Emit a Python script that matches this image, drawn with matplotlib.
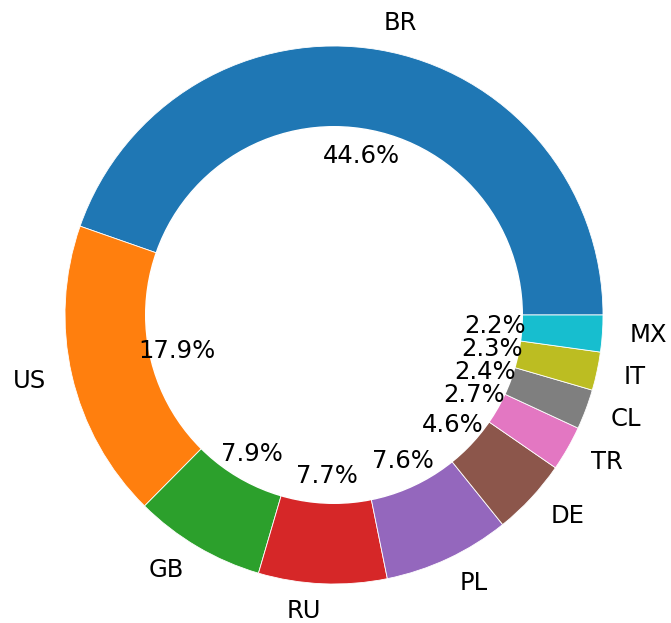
import numpy as np
import matplotlib.pyplot as plt

countries = ['BR', 'US', 'GB', 'RU', 'PL', 'DE', 'TR', 'CL', 'IT', 'MX']
shares = [44.6, 17.9, 7.9, 7.7, 7.6, 4.6, 2.7, 2.4, 2.3, 2.2]

fig = plt.figure(figsize=(6.71, 6.23), dpi=100)
ax = fig.add_axes([0, 0, 1, 1])

ax.pie(shares, labels=countries, autopct='%1.1f%%', startangle=0,
       textprops={'fontsize': 17.5},
       wedgeprops={'edgecolor': 'white', 'linewidth': 0.6})
# donut hole
ax.add_artist(plt.Circle((0, 0), 0.7, color='white'))

# pixel layout: center ~(334, 315), radius ~269 px
r = 269.
ax.set_aspect('auto')
ax.set_xlim(-334 / r, 337 / r)
ax.set_ylim(-308 / r, 315 / r)
ax.axis('off')

fig.savefig('out.png', dpi=100)
